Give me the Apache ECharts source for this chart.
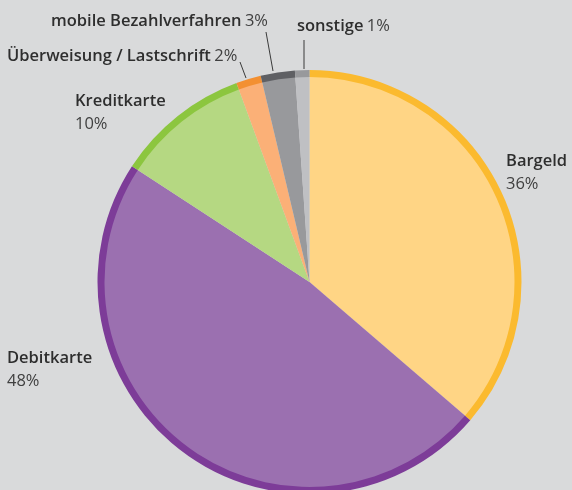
<!DOCTYPE html>
<html><head><meta charset="utf-8">
<script src="https://cdn.jsdelivr.net/npm/echarts@6/dist/echarts.min.js"></script>
<style>html,body{margin:0;padding:0;background:#d9dadb}#c{width:572px;height:490px}</style>
</head><body><div id="c"></div>
<script>
var categories = ['Bargeld', 'Debitkarte', 'Kreditkarte', 'Überweisung / Lastschrift', 'mobile Bezahlverfahren', 'sonstige'];
var values = [36.3, 47.9, 10.2, 1.9, 2.6, 1.1];
var percentLabels = ['36%', '48%', '10%', '2%', '3%', '1%'];
var fillColors = ['#ffd585', '#9b70b0', '#b5d882', '#fbb077', '#98999c', '#bfc0c3'];
var ringColors = ['#fbba2f', '#7d3c98', '#8cc63f', '#f39032', '#5f6064', '#98999c'];
var twoLine = [true, true, true, false, false, false];

var labelPos = [
  {x: 506, y: 150}, {x: 7, y: 347}, {x: 75, y: 90},
  {x: 7, y: 45}, {x: 51, y: 10}, {x: 297, y: 15}
];
var linePts = [null, null, null,
  [[240, 62], [246, 78]],
  [[266, 32], [273, 71]],
  [[304, 40], [304, 69]]
];

var chart = echarts.init(document.getElementById('c'));
var center = [309.5, 282];
chart.setOption({
  backgroundColor: '#d9dadb',
  animation: false,
  series: [
    {
      type: 'pie', radius: [0, 206], center: center, startAngle: 90, clockwise: true,
      silent: true,
      itemStyle: {borderWidth: 0},
      data: categories.map(function (c, i) {
        return {name: c, value: values[i], itemStyle: {color: fillColors[i]},
          labelLine: {show: !twoLine[i], lineStyle: {color: '#3a3a3a', width: 1}}};
      }),
      label: {
        show: true, position: 'outside', overflow: 'none', alignTo: 'none',
        formatter: function (p) {
          var i = p.dataIndex;
          return '{b|' + p.name + '}' + (twoLine[i] ? '\n' : ' ') + '{p|' + percentLabels[i] + '}';
        },
        rich: {
          b: {fontFamily: 'Open Sans', fontWeight: 600, fontSize: 16.5, color: '#2e2e2e', lineHeight: 23},
          p: {fontFamily: 'Open Sans', fontWeight: 400, fontSize: 16.5, color: '#404040', lineHeight: 23}
        }
      },
      labelLayout: function (params) {
        var i = params.dataIndex;
        var o = {x: labelPos[i].x, y: labelPos[i].y, align: 'left', verticalAlign: 'top', hideOverlap: false};
        if (linePts[i]) o.labelLinePoints = [linePts[i][0], linePts[i][0], linePts[i][1]];
        return o;
      }
    },
    {
      type: 'pie', radius: [205, 212], center: center, startAngle: 90, clockwise: true,
      silent: true, label: {show: false}, labelLine: {show: false},
      itemStyle: {borderWidth: 0},
      data: categories.map(function (c, i) {
        return {name: c, value: values[i], itemStyle: {color: ringColors[i]}};
      })
    }
  ]
});
</script></body></html>
